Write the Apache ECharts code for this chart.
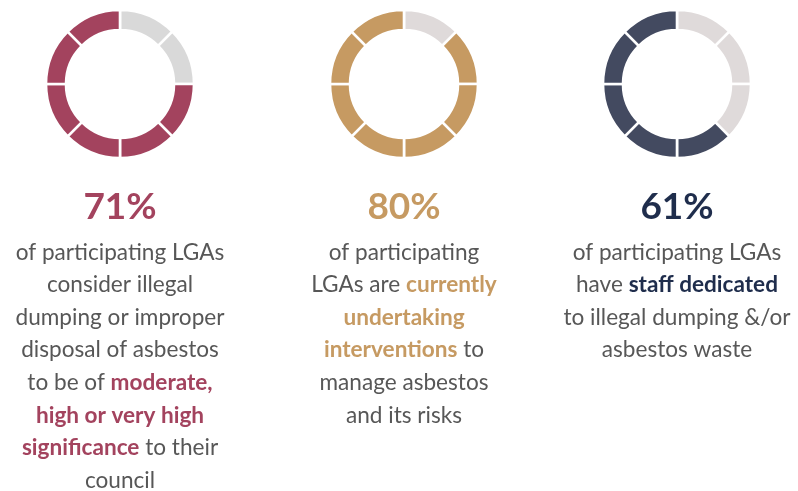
<!DOCTYPE html>
<html><head><meta charset="utf-8">
<script src="https://cdn.jsdelivr.net/npm/echarts@6/dist/echarts.min.js"></script>
<style>html,body{margin:0;padding:0;background:#fff}#c{width:798px;height:491px}</style>
</head><body><div id="c"></div>
<script>
// ---- data ----
const percentages = [71, 80, 61];
const filledSegments = [6, 7, 5];
const totalSegments = 8;
const ringColors = ['#A3435E', '#C69A62', '#434A60'];
const emptyColors = ['#D9D9D9', '#DFDADA', '#DFDADA'];
const headColors = ['#A3435E', '#C69A62', '#1F2D4C'];
const bodyLines = [
  [['of participating LGAs'], ['consider illegal'], ['dumping or improper'], ['disposal of asbestos'],
   ['to be of ', 'moderate,'], ['', 'high or very high'], ['', 'significance', ' to their'], ['council']],
  [['of participating'], ['LGAs are ', 'currently'], ['', 'undertaking'], ['', 'interventions', ' to'],
   ['manage asbestos'], ['and its risks']],
  [['of participating LGAs'], ['have ', 'staff dedicated'], ['to illegal dumping &/or'], ['asbestos waste']]
];

// ---- layout ----
const centersX = [120, 404, 677];
const centerY = 84;
const FONT = 'Lato, "Noto Sans", sans-serif';
const BODY_SIZE = 22.6;
const LINE_H = 32.6;

const series = percentages.map((p, i) => {
  const data = [];
  for (let k = 0; k < totalSegments; k++) {
    const filled = k >= totalSegments - filledSegments[i];
    data.push({ value: 1, name: 'seg' + k, itemStyle: { color: filled ? ringColors[i] : emptyColors[i] } });
  }
  return {
    type: 'pie', center: [centersX[i], centerY], radius: [54, 74],
    startAngle: 90, clockwise: true, silent: true, animation: false,
    label: { show: false }, labelLine: { show: false },
    itemStyle: { borderColor: '#fff', borderWidth: 2.6 },
    data
  };
});

function escapeRich(s) { return s.replace(/[{}|]/g, ''); }
const graphics = [];
percentages.forEach((p, i) => {
  graphics.push({
    type: 'text', x: centersX[i], y: 207, silent: true,
    style: { text: p + '%', fill: headColors[i], font: 'bold 37px ' + FONT, align: 'center', verticalAlign: 'middle' }
  });
  const txt = bodyLines[i].map(parts => parts.map((s, j) => s ? '{' + (j % 2 === 1 ? 'h' : 'n') + '|' + escapeRich(s) + '}' : '').join('')).join('\n');
  graphics.push({
    type: 'text', x: centersX[i], y: 236, silent: true,
    style: {
      text: txt, align: 'center', verticalAlign: 'top', lineHeight: LINE_H,
      rich: {
        n: { fill: '#575757', fontFamily: FONT, fontSize: BODY_SIZE, lineHeight: LINE_H, align: 'center' },
        h: { fill: headColors[i], fontFamily: FONT, fontSize: BODY_SIZE, fontWeight: 'bold', lineHeight: LINE_H, align: 'center' }
      }
    }
  });
});

const chart = echarts.init(document.getElementById('c'));
chart.setOption({ animation: false, series, graphic: graphics });
</script></body></html>
